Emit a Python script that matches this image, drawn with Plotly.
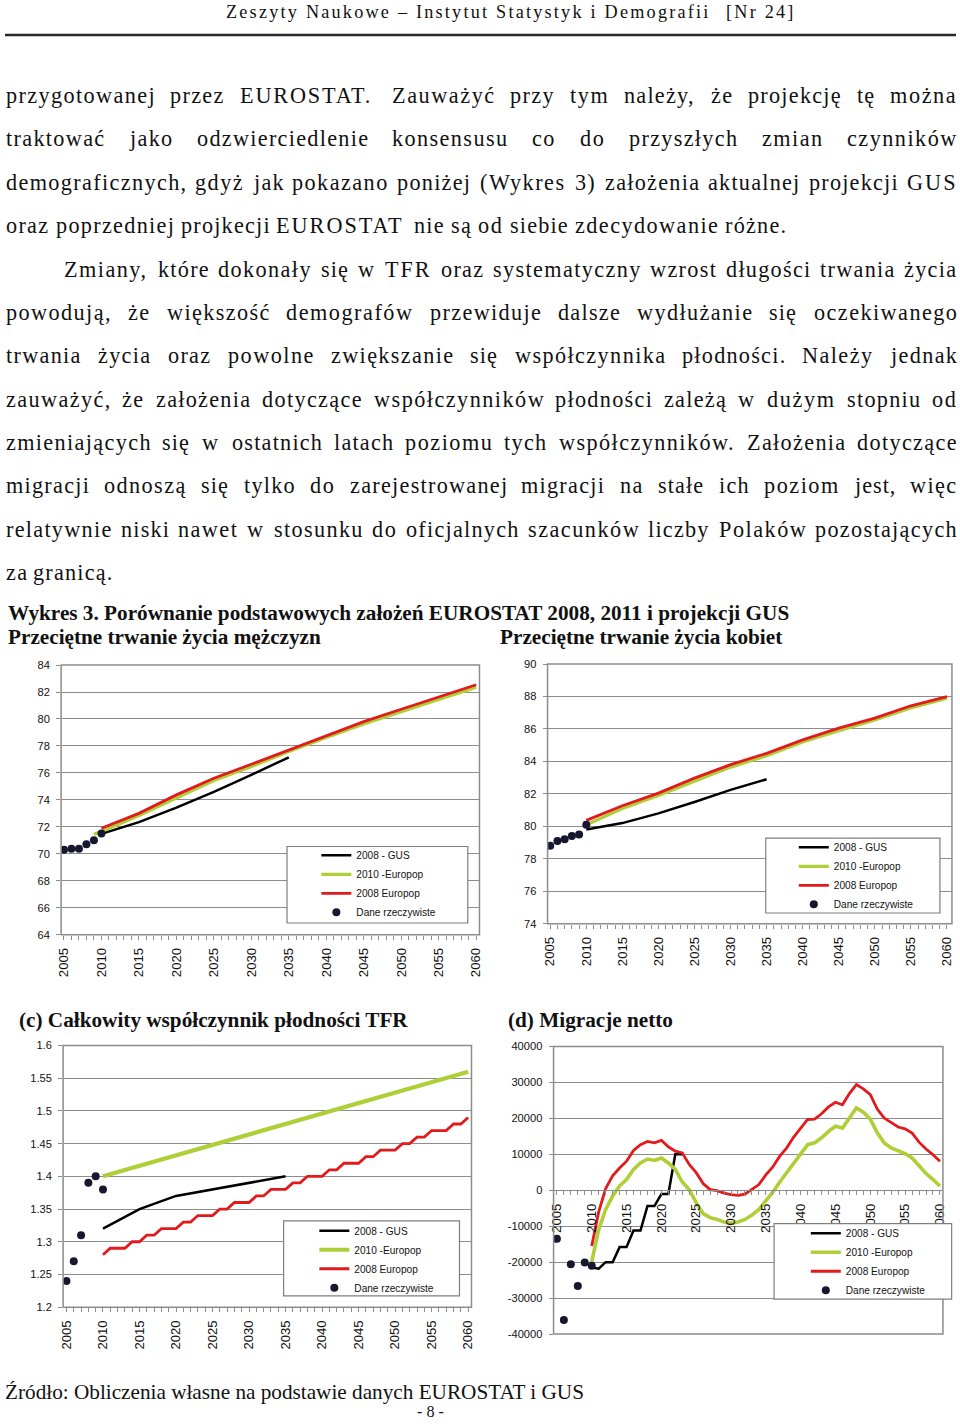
import plotly.graph_objects as go

# ---------------- data ----------------
YEARS_ACTUAL = [2005, 2006, 2007, 2008, 2009, 2010]
YEARS_5 = [2010, 2015, 2020, 2025, 2030, 2035, 2040, 2045, 2050, 2055, 2060]
YEARS_GUS5 = [2010, 2015, 2020, 2025, 2030, 2035]
YEARS_ANNUAL = list(range(2010, 2061))

# (a) male life expectancy
A_ACTUAL = [70.3, 70.37, 70.37, 70.7, 71.0, 71.5]
A_GUS = [71.48, 72.35, 73.43, 74.6, 75.85, 77.16]
A_EP2010_YEARS = [2009] + YEARS_5
A_EP2010 = [71.45, 71.65, 72.84, 74.15, 75.43, 76.47, 77.58, 78.62, 79.63, 80.54, 81.46, 82.35]
A_EP2008 = [71.9, 73.0, 74.37, 75.6, 76.64, 77.7, 78.8, 79.8, 80.72, 81.65, 82.54]

# (b) female life expectancy
B_ACTUAL = [78.8, 79.1, 79.2, 79.4, 79.5, 80.1]
B_GUS = [79.8, 80.2, 80.8, 81.5, 82.25, 82.9]
B_EP2010 = [80.1, 81.1, 81.9, 82.8, 83.65, 84.35, 85.2, 85.9, 86.55, 87.3, 87.9]
B_EP2008 = [80.37, 81.27, 82.05, 82.97, 83.8, 84.5, 85.33, 86.05, 86.67, 87.43, 88.0]

# (c) TFR
C_ACTUAL = [1.24, 1.27, 1.31, 1.39, 1.40, 1.38]
C_GUS = [1.32, 1.35, 1.37, 1.38, 1.39, 1.40]
C_EP2010_YEARS = [2010, 2020, 2030, 2040, 2050, 2060]
C_EP2010 = [1.40, 1.432, 1.464, 1.496, 1.528, 1.56]
C_EP2008 = [1.28, 1.29, 1.29, 1.29, 1.30, 1.30, 1.31, 1.31, 1.32, 1.32,
            1.32, 1.33, 1.33, 1.34, 1.34, 1.34, 1.35, 1.35, 1.36, 1.36,
            1.36, 1.37, 1.37, 1.38, 1.38, 1.38, 1.39, 1.39, 1.40, 1.40,
            1.40, 1.41, 1.41, 1.42, 1.42, 1.42, 1.43, 1.43, 1.44, 1.44,
            1.44, 1.45, 1.45, 1.46, 1.46, 1.47, 1.47, 1.47, 1.48, 1.48, 1.49]

# (d) net migration
D_ACTUAL = [-13500, -36100, -20600, -26600, -20100, -21000]
D_GUS_YEARS = list(range(2010, 2024))
D_GUS = [-21500, -21800, -20000, -20000, -15800, -15800, -11200, -11200,
         -4400, -4400, -1050, -1050, 10000, 10000]
D_EP2010 = [-19900, -10900, -5300, -1600, 1200, 3000, 5800, 7600, 8700, 8300,
            9000, 7600, 5800, 2300, 200, -3500, -6500, -7600, -8100, -8800,
            -9200, -8800, -8100, -6900, -5300, -3000, -500, 2300, 5000, 7600,
            10200, 12700, 13200, 14600, 16400, 17800, 17300, 20100, 22900, 21700,
            19800, 16000, 13200, 11800, 10900, 10200, 9000, 6700, 4700, 3000, 1200]
D_EP2008 = [-15500, -6000, 500, 4000, 6200, 8100, 11100, 12700, 13600, 13200,
            13900, 12100, 10900, 10400, 7200, 4900, 1900, 200, -100, -800,
            -1200, -1400, -1100, 200, 1600, 4300, 6500, 9500, 11800, 14800,
            17400, 19700, 19800, 21300, 23200, 24500, 23800, 26900, 29400, 28200,
            26600, 22600, 20100, 18900, 17600, 17100, 15900, 13400, 11500, 9900, 8100]

SERIES_NAMES = ["2008 - GUS", "2010 -Europop", "2008 Europop", "Dane rzeczywiste"]

X_TICK_VALS = [2005, 2010, 2015, 2020, 2025, 2030, 2035, 2040, 2045, 2050, 2055, 2060]
X_TICK_LABELS = ["2005", "2010", "2015", "2020", "2025", "2030", "2035", "2040",
                 "2045", "2050", "2055", "2060"]
X_MINOR = list(range(2005, 2061))

A_Y_TICKS = [64, 66, 68, 70, 72, 74, 76, 78, 80, 82, 84]
A_Y_LABELS = ["64", "66", "68", "70", "72", "74", "76", "78", "80", "82", "84"]
B_Y_TICKS = [74, 76, 78, 80, 82, 84, 86, 88, 90]
B_Y_LABELS = ["74", "76", "78", "80", "82", "84", "86", "88", "90"]
C_Y_TICKS = [1.2, 1.25, 1.3, 1.35, 1.4, 1.45, 1.5, 1.55, 1.6]
C_Y_LABELS = ["1.2", "1.25", "1.3", "1.35", "1.4", "1.45", "1.5", "1.55", "1.6"]
D_Y_TICKS = [-40000, -30000, -20000, -10000, 0, 10000, 20000, 30000, 40000]
D_Y_LABELS = ["-40000", "-30000", "-20000", "-10000", "0", "10000", "20000", "30000", "40000"]

# ---------------- page text ----------------
HEADER = "Zeszyty Naukowe – Instytut Statystyk i Demografii"
HEADER_NR = "[Nr 24]"
BODY_LINES = [
    "przygotowanej przez EUROSTAT. Zauważyć przy tym należy, że projekcję tę można",
    "traktować jako odzwierciedlenie konsensusu co do przyszłych zmian czynników",
    "demograficznych, gdyż jak pokazano poniżej (Wykres 3) założenia aktualnej projekcji GUS",
    "oraz poprzedniej projkecji EUROSTAT nie są od siebie zdecydowanie różne.",
    "Zmiany, które dokonały się w TFR oraz systematyczny wzrost długości trwania życia",
    "powodują, że większość demografów przewiduje dalsze wydłużanie się oczekiwanego",
    "trwania życia oraz powolne zwiększanie się współczynnika płodności. Należy jednak",
    "zauważyć, że założenia dotyczące współczynników płodności zależą w dużym stopniu od",
    "zmieniających się w ostatnich latach poziomu tych współczynników. Założenia dotyczące",
    "migracji odnoszą się tylko do zarejestrowanej migracji na stałe ich poziom jest, więc",
    "relatywnie niski nawet w stosunku do oficjalnych szacunków liczby Polaków pozostających",
    "za granicą.",
]
LINE_EXTENTS = [(5, 955), (5, 955), (5, 955), (5, 785), (63, 955), (5, 955),
                (5, 955), (5, 955), (5, 955), (5, 955), (5, 955), (5, 112)]
TITLE_MAIN = "Wykres 3. Porównanie podstawowych założeń EUROSTAT 2008, 2011 i projekcji GUS"
TITLE_A = "Przeciętne trwanie życia mężczyzn"
TITLE_B = "Przeciętne trwanie życia kobiet"
TITLE_C = "(c) Całkowity współczynnik płodności TFR"
TITLE_D = "(d) Migracje netto"
SOURCE = "Źródło: Obliczenia własne na podstawie danych EUROSTAT i GUS"
PAGE_NO = "- 8 -"

# ---------------- helpers ----------------
# Positions below are given in reference-image pixels; the photographed page
# shows the figure scaled by 960/970 inside a 5 px white frame, so they are
# mapped back to figure pixels here.
W, H = 960, 1428
SX, SY = 960 / 970, 1428 / 1438
OX, OY = 5 * SX, 5 * SY
FSCALE = 1 / SX

GRID = "#8c8c8c"
GREEN = "#aecf38"
RED = "#e31a1c"
DOT = "#17172f"
SANS = "Liberation Sans"
SERIF = "Liberation Serif"

_lw = dict(zip("abcdefghijklmnopqrstuvwxyz",
               [444, 500, 444, 500, 444, 333, 500, 500, 278, 278, 500, 278, 778,
                500, 500, 500, 500, 333, 389, 278, 500, 500, 722, 500, 500, 444]))
_uw = dict(zip("ABCDEFGHIJKLMNOPQRSTUVWXYZ",
               [722, 667, 667, 722, 611, 556, 722, 722, 333, 389, 722, 611, 889,
                722, 722, 556, 722, 667, 556, 611, 722, 722, 944, 722, 722, 611]))
CHAR_W = {**_lw, **_uw}
CHAR_W.update({'ą': 444, 'ć': 444, 'ę': 444, 'ł': 278, 'ń': 500, 'ó': 500, 'ś': 389,
               'ź': 444, 'ż': 444, 'Ż': 611, 'Ź': 611, 'Ł': 611, ',': 250, '.': 250,
               '(': 333, ')': 333, '-': 333, ':': 278, ' ': 250})


def units(word):
    return sum(CHAR_W.get(c, 500) for c in word) / 1000.0


def px(x):
    return ((x - OX) / SX) / W


def py(y):
    return 1 - ((y - OY) / SY) / H


def fs(size):
    return round(size * FSCALE, 2)


def ann(text, x, y, size, family=SERIF, xanchor="left", color="#111111"):
    return dict(text=text, x=px(x), y=py(y), xref="paper", yref="paper",
                xanchor=xanchor, yanchor="middle", showarrow=False,
                font=dict(family=family, size=fs(size), color=color), borderpad=0)


annotations = []

# header
HLS = 2.2 * FSCALE
annotations.append(ann('<span style="letter-spacing:%.2fpx">%s</span>' % (HLS, HEADER), 225, 11, 18))
annotations.append(ann('<span style="letter-spacing:%.2fpx">%s</span>' % (HLS, HEADER_NR), 724, 11, 18))

# body text, justified word by word
REF_SCALE = 25.0   # horizontal em scale of the reference glyphs
FS = 22            # rendered font size (reference pixels)
for i, (line, (x0, x1)) in enumerate(zip(BODY_LINES, LINE_EXTENTS)):
    words = line.split(" ")
    widths = [units(w) * REF_SCALE for w in words]
    if len(words) > 1:
        gap = (x1 - x0 - sum(widths)) / (len(words) - 1)
    else:
        gap = 0
    yline = 94.6 + 43.45 * i
    x = x0
    for w, wd in zip(words, widths):
        ls = units(w) * (REF_SCALE - FS) / len(w) * FSCALE
        annotations.append(ann('<span style="letter-spacing:%.2fpx">%s</span>' % (ls, w),
                               x, yline, FS))
        x += wd + gap

# titles
annotations.append(ann("<b>%s</b>" % TITLE_MAIN, 7, 613, 21))
annotations.append(ann("<b>%s</b>" % TITLE_A, 7, 637, 21))
annotations.append(ann("<b>%s</b>" % TITLE_B, 498, 637, 21))
annotations.append(ann("<b>%s</b>" % TITLE_C, 18, 1020, 21))
annotations.append(ann("<b>%s</b>" % TITLE_D, 506, 1020, 21))
annotations.append(ann(SOURCE, 4, 1393, 21))
annotations.append(ann(PAGE_NO, 430, 1413, 16, xanchor="center"))

# ---------------- charts ----------------
fig = go.Figure()

charts = [
    dict(k="", xd=(61, 479), yd=(665, 935), xr=(2004.62, 2060.44), yr=(64, 84),
         yt=A_Y_TICKS, yl=A_Y_LABELS, box=(286.7, 846.7, 467.3, 923.3), leg=(316, 841),
         actual=A_ACTUAL, gus=(YEARS_GUS5, A_GUS), ep10=(A_EP2010_YEARS, A_EP2010),
         ep08=(YEARS_5, A_EP2008), gw=3.2),
    dict(k="2", xd=(547, 951), yd=(664, 924), xr=(2004.63, 2060.69), yr=(74, 90),
         yt=B_Y_TICKS, yl=B_Y_LABELS, box=(765, 838.3, 939, 913.3), leg=(793, 833),
         actual=B_ACTUAL, gus=(YEARS_GUS5, B_GUS), ep10=(YEARS_5, B_EP2010),
         ep08=(YEARS_5, B_EP2008), gw=3.2),
    dict(k="3", xd=(63, 471), yd=(1046, 1308), xr=(2004.54, 2060.46), yr=(1.2, 1.6),
         yt=C_Y_TICKS, yl=C_Y_LABELS, box=(283.3, 1221.7, 459, 1296.7), leg=(314, 1217),
         actual=C_ACTUAL, gus=(YEARS_GUS5, C_GUS), ep10=(C_EP2010_YEARS, C_EP2010),
         ep08=(YEARS_ANNUAL, C_EP2008), gw=4.2),
    dict(k="4", xd=(553, 942), yd=(1047, 1335), xr=(2004.52, 2060.43), yr=(-40000, 40000),
         yt=D_Y_TICKS, yl=D_Y_LABELS, box=(773.3, 1224.3, 950.7, 1300), leg=(805, 1219.5),
         actual=D_ACTUAL, gus=(D_GUS_YEARS, D_GUS), ep10=(YEARS_ANNUAL, D_EP2010),
         ep08=(YEARS_ANNUAL, D_EP2008), gw=3.6),
]

shapes = [dict(type="line", xref="paper", yref="paper", x0=0, x1=1, y0=py(34), y1=py(34),
               line=dict(color="#2a2a2a", width=2.5), layer="above")]
frame_shapes = []
box_shapes = []
layout_axes = {}

for c in charts:
    k = c["k"]
    xa, ya = "x" + k, "y" + k
    leg = "legend" + k
    common = dict(xaxis=xa, yaxis=ya, legend=leg)
    fig.add_trace(go.Scatter(x=c["gus"][0], y=c["gus"][1], mode="lines",
                             name=SERIES_NAMES[0], line=dict(color="#000000", width=2.5),
                             **common))
    fig.add_trace(go.Scatter(x=c["ep10"][0], y=c["ep10"][1], mode="lines",
                             name=SERIES_NAMES[1], line=dict(color=GREEN, width=c["gw"]),
                             **common))
    fig.add_trace(go.Scatter(x=c["ep08"][0], y=c["ep08"][1], mode="lines",
                             name=SERIES_NAMES[2], line=dict(color=RED, width=2.8),
                             **common))
    fig.add_trace(go.Scatter(x=YEARS_ACTUAL, y=c["actual"], mode="markers",
                             name=SERIES_NAMES[3], marker=dict(color=DOT, size=8),
                             **common))

    xdom = [px(c["xd"][0]), px(c["xd"][1])]
    ydom = [py(c["yd"][1]), py(c["yd"][0])]
    xaxis = dict(domain=xdom, range=list(c["xr"]), tickmode="array",
                 tickvals=X_TICK_VALS, ticktext=X_TICK_LABELS, tickangle=-90,
                 ticks="outside", ticklen=4, tickcolor=GRID, tickwidth=1,
                 minor=dict(tickmode="array", tickvals=X_MINOR, ticks="outside",
                            ticklen=4, tickcolor=GRID, tickwidth=1, showgrid=False),
                 showgrid=False, zeroline=False, showline=False,
                 tickfont=dict(family=SANS, size=fs(13), color="#111111"),
                 ticklabelstandoff=3, fixedrange=True)
    if k == "4":
        r0, r1 = c["yr"]
        pos = ydom[0] + (0 - r0) / (r1 - r0) * (ydom[1] - ydom[0])
        xaxis.update(anchor="free", position=pos, showline=True, linecolor=GRID,
                     linewidth=1.3)
    else:
        xaxis.update(anchor=ya)
    yaxis = dict(domain=ydom, range=list(c["yr"]), anchor=xa, tickmode="array",
                 tickvals=c["yt"], ticktext=c["yl"], ticks="outside", ticklen=4,
                 tickcolor=GRID, showgrid=True, gridcolor=GRID, gridwidth=1.3,
                 zeroline=False, showline=False,
                 tickfont=dict(family=SANS, size=fs(11), color="#111111"),
                 ticklabelstandoff=4, fixedrange=True)
    layout_axes["xaxis" + k] = xaxis
    layout_axes["yaxis" + k] = yaxis

    frame_shapes.append(dict(type="rect", xref=xa + " domain", yref=ya + " domain",
                             x0=0, x1=1, y0=0, y1=1, line=dict(color=GRID, width=1.5),
                             fillcolor="rgba(0,0,0,0)", layer="above"))
    bx0, by0, bx1, by1 = c["box"]
    box_shapes.append(dict(type="rect", xref="paper", yref="paper",
                           x0=px(bx0), x1=px(bx1), y0=py(by1), y1=py(by0),
                           line=dict(color="#7f7f7f", width=1.2), fillcolor="white",
                           layer="above"))
    lx, ly = c["leg"]
    layout_axes[leg] = dict(x=px(lx), y=py(ly), xanchor="left", yanchor="top",
                            bgcolor="rgba(0,0,0,0)", borderwidth=0,
                            font=dict(family=SANS, size=fs(10), color="#111111"),
                            itemwidth=30, tracegroupgap=0, itemclick=False,
                            itemdoubleclick=False)

fig.update_layout(
    width=W, height=H, autosize=False,
    margin=dict(l=0, r=0, t=0, b=0, pad=0),
    paper_bgcolor="white", plot_bgcolor="white",
    showlegend=True,
    annotations=annotations,
    shapes=shapes + frame_shapes + box_shapes,
    **layout_axes,
)

POST = (
    "document.documentElement.style.margin='0';"
    "document.documentElement.style.padding='0';"
    "document.body.style.margin='0';"
    "document.body.style.padding='0';"
)

fig.write_html("out.html", config={"displayModeBar": False}, post_script=POST)
